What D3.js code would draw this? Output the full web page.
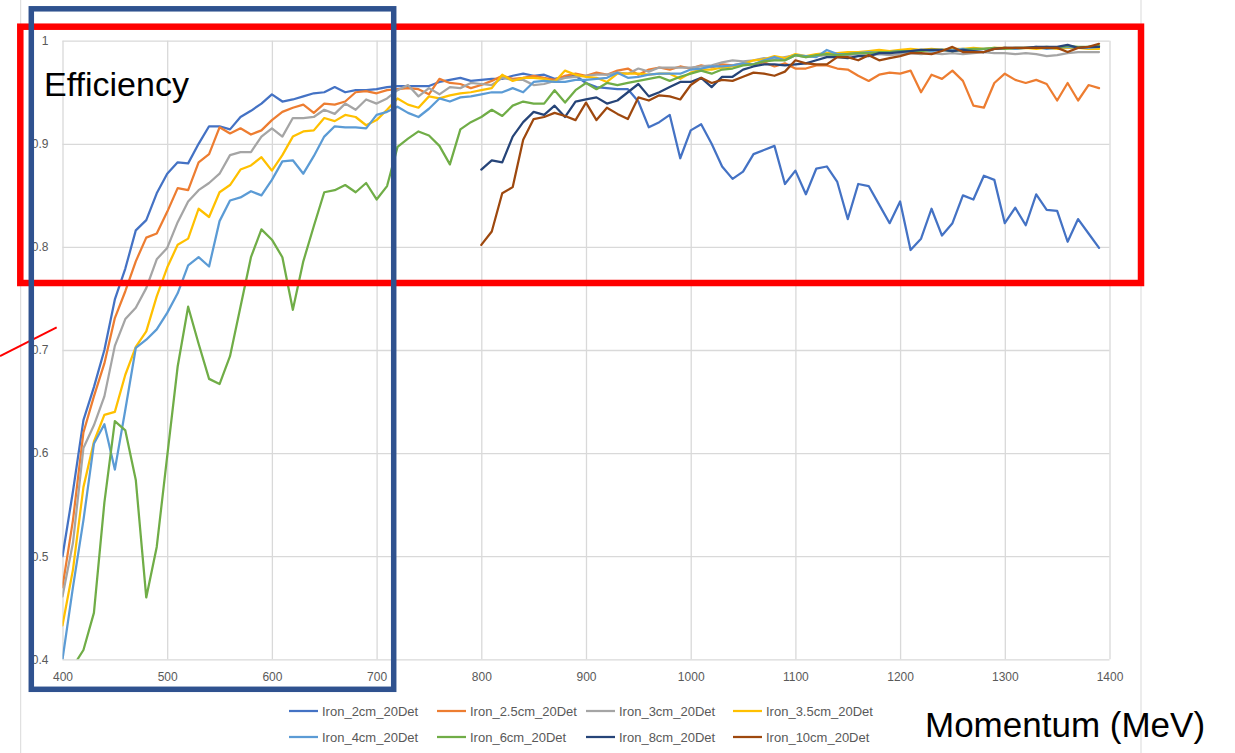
<!DOCTYPE html>
<html>
<head>
<meta charset="utf-8">
<script src="https://cdn.jsdelivr.net/npm/d3@7"></script>
<style>
  html, body { margin: 0; padding: 0; background: #ffffff; }
  svg { display: block; }
</style>
</head>
<body>
<svg id="chart" width="1235" height="753"></svg>
<script>
// Momentum grid (MeV) for each series
const momentumFull = d3.range(400, 1391, 10);   // 400 ... 1390
const momentumHigh = d3.range(800, 1391, 10);   // 800 ... 1390

const seriesNames = [
  "Iron_2cm_20Det", "Iron_2.5cm_20Det", "Iron_3cm_20Det", "Iron_3.5cm_20Det",
  "Iron_4cm_20Det", "Iron_6cm_20Det", "Iron_8cm_20Det", "Iron_10cm_20Det"
];
const seriesColors = ["#4472C4", "#ED7D31", "#A5A5A5", "#FFC000", "#5B9BD5", "#70AD47", "#264478", "#9E480E"];

const xTicks = [400, 500, 600, 700, 800, 900, 1000, 1100, 1200, 1300, 1400];
const yTicks = [0.4, 0.5, 0.6, 0.7, 0.8, 0.9, 1];

// Efficiency values, 400-1390 MeV
const iron2cm = [
  0.500, 0.563, 0.632, 0.664, 0.700, 0.749, 0.779, 0.816, 0.826, 0.852,
  0.871, 0.882, 0.881, 0.900, 0.917, 0.917, 0.914, 0.926, 0.932, 0.939,
  0.948, 0.941, 0.943, 0.946, 0.949, 0.950, 0.955, 0.950, 0.952, 0.952,
  0.953, 0.955, 0.956, 0.956, 0.956, 0.956, 0.960, 0.962, 0.964, 0.961,
  0.962, 0.963, 0.963, 0.966, 0.968, 0.966, 0.967, 0.963, 0.965, 0.966,
  0.959, 0.955, 0.954, 0.953, 0.953, 0.941, 0.916, 0.921, 0.928, 0.886,
  0.913, 0.919, 0.900, 0.878, 0.866, 0.873, 0.890, 0.894, 0.898, 0.861,
  0.874, 0.851, 0.876, 0.878, 0.863, 0.827, 0.861, 0.859, 0.841, 0.823,
  0.844, 0.797, 0.808, 0.837, 0.811, 0.823, 0.850, 0.846, 0.869, 0.865,
  0.823, 0.838, 0.821, 0.851, 0.836, 0.835, 0.805, 0.827, 0.813, 0.799
];
const iron2p5cm = [
  0.470, 0.535, 0.620, 0.655, 0.687, 0.731, 0.757, 0.786, 0.809, 0.813,
  0.834, 0.857, 0.855, 0.882, 0.890, 0.916, 0.910, 0.915, 0.909, 0.913,
  0.923, 0.931, 0.935, 0.938, 0.930, 0.939, 0.938, 0.941, 0.950, 0.951,
  0.949, 0.952, 0.953, 0.954, 0.953, 0.948, 0.963, 0.959, 0.958, 0.954,
  0.957, 0.961, 0.966, 0.963, 0.964, 0.966, 0.964, 0.962, 0.966, 0.968,
  0.966, 0.969, 0.967, 0.971, 0.973, 0.967, 0.972, 0.974, 0.972, 0.975,
  0.973, 0.976, 0.974, 0.977, 0.976, 0.978, 0.977, 0.979, 0.975, 0.978,
  0.973, 0.973, 0.976, 0.976, 0.973, 0.972, 0.966, 0.961, 0.967, 0.969,
  0.968, 0.971, 0.950, 0.967, 0.963, 0.971, 0.961, 0.937, 0.935, 0.959,
  0.968, 0.962, 0.959, 0.962, 0.958, 0.942, 0.959, 0.942, 0.957, 0.954
];
const iron3cm = [
  0.461, 0.513, 0.605, 0.627, 0.655, 0.704, 0.730, 0.741, 0.760, 0.788,
  0.799, 0.824, 0.844, 0.855, 0.862, 0.871, 0.889, 0.892, 0.892, 0.907,
  0.915, 0.907, 0.925, 0.925, 0.926, 0.933, 0.929, 0.939, 0.933, 0.943,
  0.939, 0.944, 0.952, 0.957, 0.946, 0.954, 0.948, 0.955, 0.954, 0.959,
  0.958, 0.957, 0.964, 0.962, 0.962, 0.957, 0.958, 0.961, 0.964, 0.965,
  0.966, 0.967, 0.967, 0.969, 0.968, 0.973, 0.970, 0.974, 0.974, 0.974,
  0.974, 0.975, 0.976, 0.979, 0.981, 0.980, 0.981, 0.983, 0.982, 0.984,
  0.986, 0.984, 0.985, 0.986, 0.985, 0.986, 0.987, 0.986, 0.987, 0.986,
  0.987, 0.988, 0.987, 0.988, 0.987, 0.988, 0.987, 0.988, 0.989, 0.988,
  0.988, 0.987, 0.988, 0.987, 0.985, 0.986, 0.988, 0.989, 0.989, 0.989
];
const iron3p5cm = [
  0.433, 0.487, 0.567, 0.611, 0.637, 0.640, 0.676, 0.703, 0.718, 0.752,
  0.780, 0.802, 0.808, 0.837, 0.829, 0.853, 0.860, 0.875, 0.879, 0.887,
  0.874, 0.889, 0.907, 0.912, 0.913, 0.925, 0.922, 0.928, 0.926, 0.918,
  0.923, 0.933, 0.944, 0.938, 0.935, 0.946, 0.944, 0.947, 0.949, 0.950,
  0.952, 0.954, 0.967, 0.961, 0.964, 0.964, 0.963, 0.960, 0.971, 0.967,
  0.965, 0.964, 0.960, 0.968, 0.968, 0.968, 0.967, 0.968, 0.968, 0.963,
  0.969, 0.972, 0.972, 0.974, 0.975, 0.977, 0.981, 0.982, 0.985, 0.983,
  0.987, 0.985, 0.987, 0.988, 0.988, 0.989, 0.989, 0.990, 0.991, 0.990,
  0.991, 0.992, 0.991, 0.992, 0.991, 0.992, 0.992, 0.993, 0.992, 0.993,
  0.993, 0.992, 0.993, 0.992, 0.993, 0.992, 0.993, 0.993, 0.992, 0.992
];
const iron4cm = [
  0.400, 0.470, 0.535, 0.609, 0.628, 0.584, 0.642, 0.702, 0.710, 0.720,
  0.736, 0.755, 0.782, 0.790, 0.781, 0.825, 0.845, 0.848, 0.854, 0.850,
  0.865, 0.883, 0.884, 0.871, 0.888, 0.907, 0.917, 0.916, 0.916, 0.915,
  0.928, 0.931, 0.936, 0.930, 0.926, 0.934, 0.944, 0.941, 0.945, 0.946,
  0.948, 0.950, 0.950, 0.954, 0.950, 0.960, 0.961, 0.960, 0.960, 0.962,
  0.962, 0.963, 0.964, 0.969, 0.964, 0.965, 0.967, 0.968, 0.968, 0.968,
  0.972, 0.973, 0.975, 0.975, 0.976, 0.978, 0.977, 0.981, 0.984, 0.981,
  0.986, 0.985, 0.984, 0.991, 0.987, 0.987, 0.988, 0.989, 0.988, 0.989,
  0.990, 0.990, 0.991, 0.990, 0.991, 0.991, 0.992, 0.991, 0.992, 0.992,
  0.993, 0.992, 0.993, 0.994, 0.992, 0.993, 0.994, 0.993, 0.993, 0.994
];
const iron6cm = [
  0.370, 0.393, 0.409, 0.445, 0.552, 0.631, 0.622, 0.574, 0.460, 0.509,
  0.597, 0.684, 0.742, 0.706, 0.672, 0.667, 0.694, 0.742, 0.790, 0.817,
  0.807, 0.790, 0.739, 0.786, 0.820, 0.853, 0.855, 0.860, 0.853, 0.862,
  0.846, 0.859, 0.897, 0.905, 0.912, 0.908, 0.898, 0.880, 0.914, 0.921,
  0.926, 0.933, 0.927, 0.937, 0.941, 0.939, 0.939, 0.952, 0.940, 0.952,
  0.959, 0.953, 0.959, 0.957, 0.959, 0.961, 0.963, 0.965, 0.961, 0.965,
  0.968, 0.971, 0.968, 0.972, 0.973, 0.976, 0.977, 0.980, 0.981, 0.981,
  0.986, 0.984, 0.986, 0.987, 0.986, 0.987, 0.988, 0.988, 0.989, 0.989,
  0.990, 0.990, 0.990, 0.991, 0.991, 0.990, 0.991, 0.992, 0.992, 0.993,
  0.992, 0.993, 0.993, 0.993, 0.994, 0.993, 0.995, 0.994, 0.994, 0.995
];
// Efficiency values, 800-1390 MeV
const iron8cm = [
  0.875, 0.884, 0.882, 0.907, 0.921, 0.931, 0.928, 0.937, 0.926, 0.941,
  0.943, 0.945, 0.939, 0.942, 0.950, 0.958, 0.946, 0.950, 0.955, 0.960,
  0.960, 0.964, 0.955, 0.965, 0.965, 0.972, 0.975, 0.977, 0.977, 0.976,
  0.977, 0.978, 0.981, 0.984, 0.984, 0.983, 0.985, 0.985, 0.988, 0.988,
  0.989, 0.990, 0.991, 0.991, 0.991, 0.990, 0.991, 0.990, 0.989, 0.992,
  0.993, 0.993, 0.993, 0.994, 0.994, 0.994, 0.996, 0.993, 0.994, 0.994
];
const iron10cm = [
  0.802, 0.815, 0.852, 0.858, 0.904, 0.924, 0.926, 0.930, 0.927, 0.923,
  0.940, 0.923, 0.935, 0.929, 0.924, 0.945, 0.942, 0.947, 0.946, 0.943,
  0.957, 0.964, 0.959, 0.962, 0.961, 0.965, 0.969, 0.968, 0.966, 0.970,
  0.981, 0.978, 0.977, 0.977, 0.984, 0.984, 0.981, 0.986, 0.981, 0.983,
  0.985, 0.988, 0.988, 0.987, 0.990, 0.994, 0.989, 0.989, 0.989, 0.992,
  0.993, 0.993, 0.993, 0.993, 0.993, 0.993, 0.989, 0.993, 0.994, 0.997
];

const seriesValues = [iron2cm, iron2p5cm, iron3cm, iron3p5cm, iron4cm, iron6cm, iron8cm, iron10cm];
const seriesMomenta = [momentumFull, momentumFull, momentumFull, momentumFull, momentumFull, momentumFull, momentumHigh, momentumHigh];

const series = seriesNames.map((name, i) => ({
  name,
  color: seriesColors[i],
  points: seriesValues[i].map((v, j) => ({ x: seriesMomenta[i][j], y: v }))
}));

// ---- layout ----
const svg = d3.select("#chart");
const plot = { left: 62.5, right: 1109.5, top: 40.7, bottom: 659.3 };
const x = d3.scaleLinear().domain([400, 1400]).range([plot.left, plot.right]);
const y = d3.scaleLinear().domain([0.4, 1]).range([plot.bottom, plot.top]);

const gridColor = "#D9D9D9";
const labelColor = "#595959";
const tickFont = "'Liberation Sans', Arial, sans-serif";

svg.append("rect").attr("width", 1235).attr("height", 753).attr("fill", "#ffffff");

// chart area border
svg.append("rect")
  .attr("x", 20.7).attr("y", -5)
  .attr("width", 1141 - 20.7).attr("height", 770)
  .attr("fill", "none").attr("stroke", gridColor).attr("stroke-width", 1);

// horizontal gridlines + y labels
const yAxis = d3.axisLeft(y)
  .tickValues(yTicks)
  .tickSize(-(plot.right - plot.left))
  .tickPadding(14)
  .tickFormat(d => d3.format("")(+d.toFixed(1)));
const gy = svg.append("g").attr("transform", `translate(${plot.left},0)`).call(yAxis);
gy.select(".domain").remove();
gy.selectAll(".tick line").attr("stroke", gridColor).attr("stroke-width", 1.3);
gy.selectAll(".tick text")
  .attr("fill", labelColor)
  .style("font-family", tickFont)
  .style("font-size", "12px");

// vertical gridlines + x labels
const xAxis = d3.axisBottom(x)
  .tickValues(xTicks)
  .tickSize(-(plot.bottom - plot.top))
  .tickPadding(13)
  .tickFormat(d3.format("d"));
const gx = svg.append("g").attr("transform", `translate(0,${plot.bottom})`).call(xAxis);
gx.select(".domain").remove();
gx.selectAll(".tick line").attr("stroke", gridColor).attr("stroke-width", 1.3);
gx.selectAll(".tick text")
  .attr("fill", labelColor)
  .style("font-family", tickFont)
  .style("font-size", "12px");

// series lines, clipped to the plotting area
svg.append("clipPath").attr("id", "plot-clip")
  .append("rect")
  .attr("x", plot.left).attr("y", plot.top - 3)
  .attr("width", plot.right - plot.left).attr("height", plot.bottom - plot.top + 3);

const line = d3.line().x(d => x(d.x)).y(d => y(d.y));
const lines = svg.append("g").attr("clip-path", "url(#plot-clip)");
lines.selectAll("path.series")
  .data(series)
  .join("path")
  .attr("class", "series")
  .attr("d", d => line(d.points))
  .attr("fill", "none")
  .attr("stroke", d => d.color)
  .attr("stroke-width", 2.25)
  .attr("stroke-linejoin", "round")
  .attr("stroke-linecap", "round");

// legend: two rows of four
const legendCols = [289, 437, 586, 733];
const legendRows = [711, 737];
const legend = svg.append("g");
series.forEach((s, i) => {
  const lx = legendCols[i % 4];
  const ly = legendRows[Math.floor(i / 4)];
  legend.append("line")
    .attr("x1", lx).attr("x2", lx + 29)
    .attr("y1", ly).attr("y2", ly)
    .attr("stroke", s.color).attr("stroke-width", 2.25);
  legend.append("text")
    .attr("x", lx + 33).attr("y", ly)
    .attr("dy", "0.35em")
    .attr("fill", labelColor)
    .style("font-family", tickFont)
    .style("font-size", "13px")
    .text(s.name);
});

// axis titles
svg.append("text")
  .attr("x", 44).attr("y", 96)
  .attr("fill", "#000000")
  .style("font-family", "'Liberation Sans', Arial, sans-serif")
  .style("font-size", "34px")
  .text("Efficiency");

svg.append("text")
  .attr("x", 925).attr("y", 737)
  .attr("fill", "#000000")
  .style("font-family", "'Liberation Sans', Arial, sans-serif")
  .style("font-size", "35px")
  .text("Momentum (MeV)");

// highlight annotations
svg.append("line")
  .attr("x1", 0).attr("y1", 356)
  .attr("x2", 56.7).attr("y2", 327.3)
  .attr("stroke", "#FF0000").attr("stroke-width", 2);

svg.append("rect")
  .attr("x", 20.3).attr("y", 26.7)
  .attr("width", 1141 - 20.3).attr("height", 283 - 26.7)
  .attr("fill", "none").attr("stroke", "#FF0000").attr("stroke-width", 6.5);

svg.append("rect")
  .attr("x", 31.3).attr("y", 8.8)
  .attr("width", 393.7 - 31.3).attr("height", 689.3 - 8.8)
  .attr("fill", "none").attr("stroke", "#2F528F").attr("stroke-width", 5.5);
</script>
</body>
</html>
